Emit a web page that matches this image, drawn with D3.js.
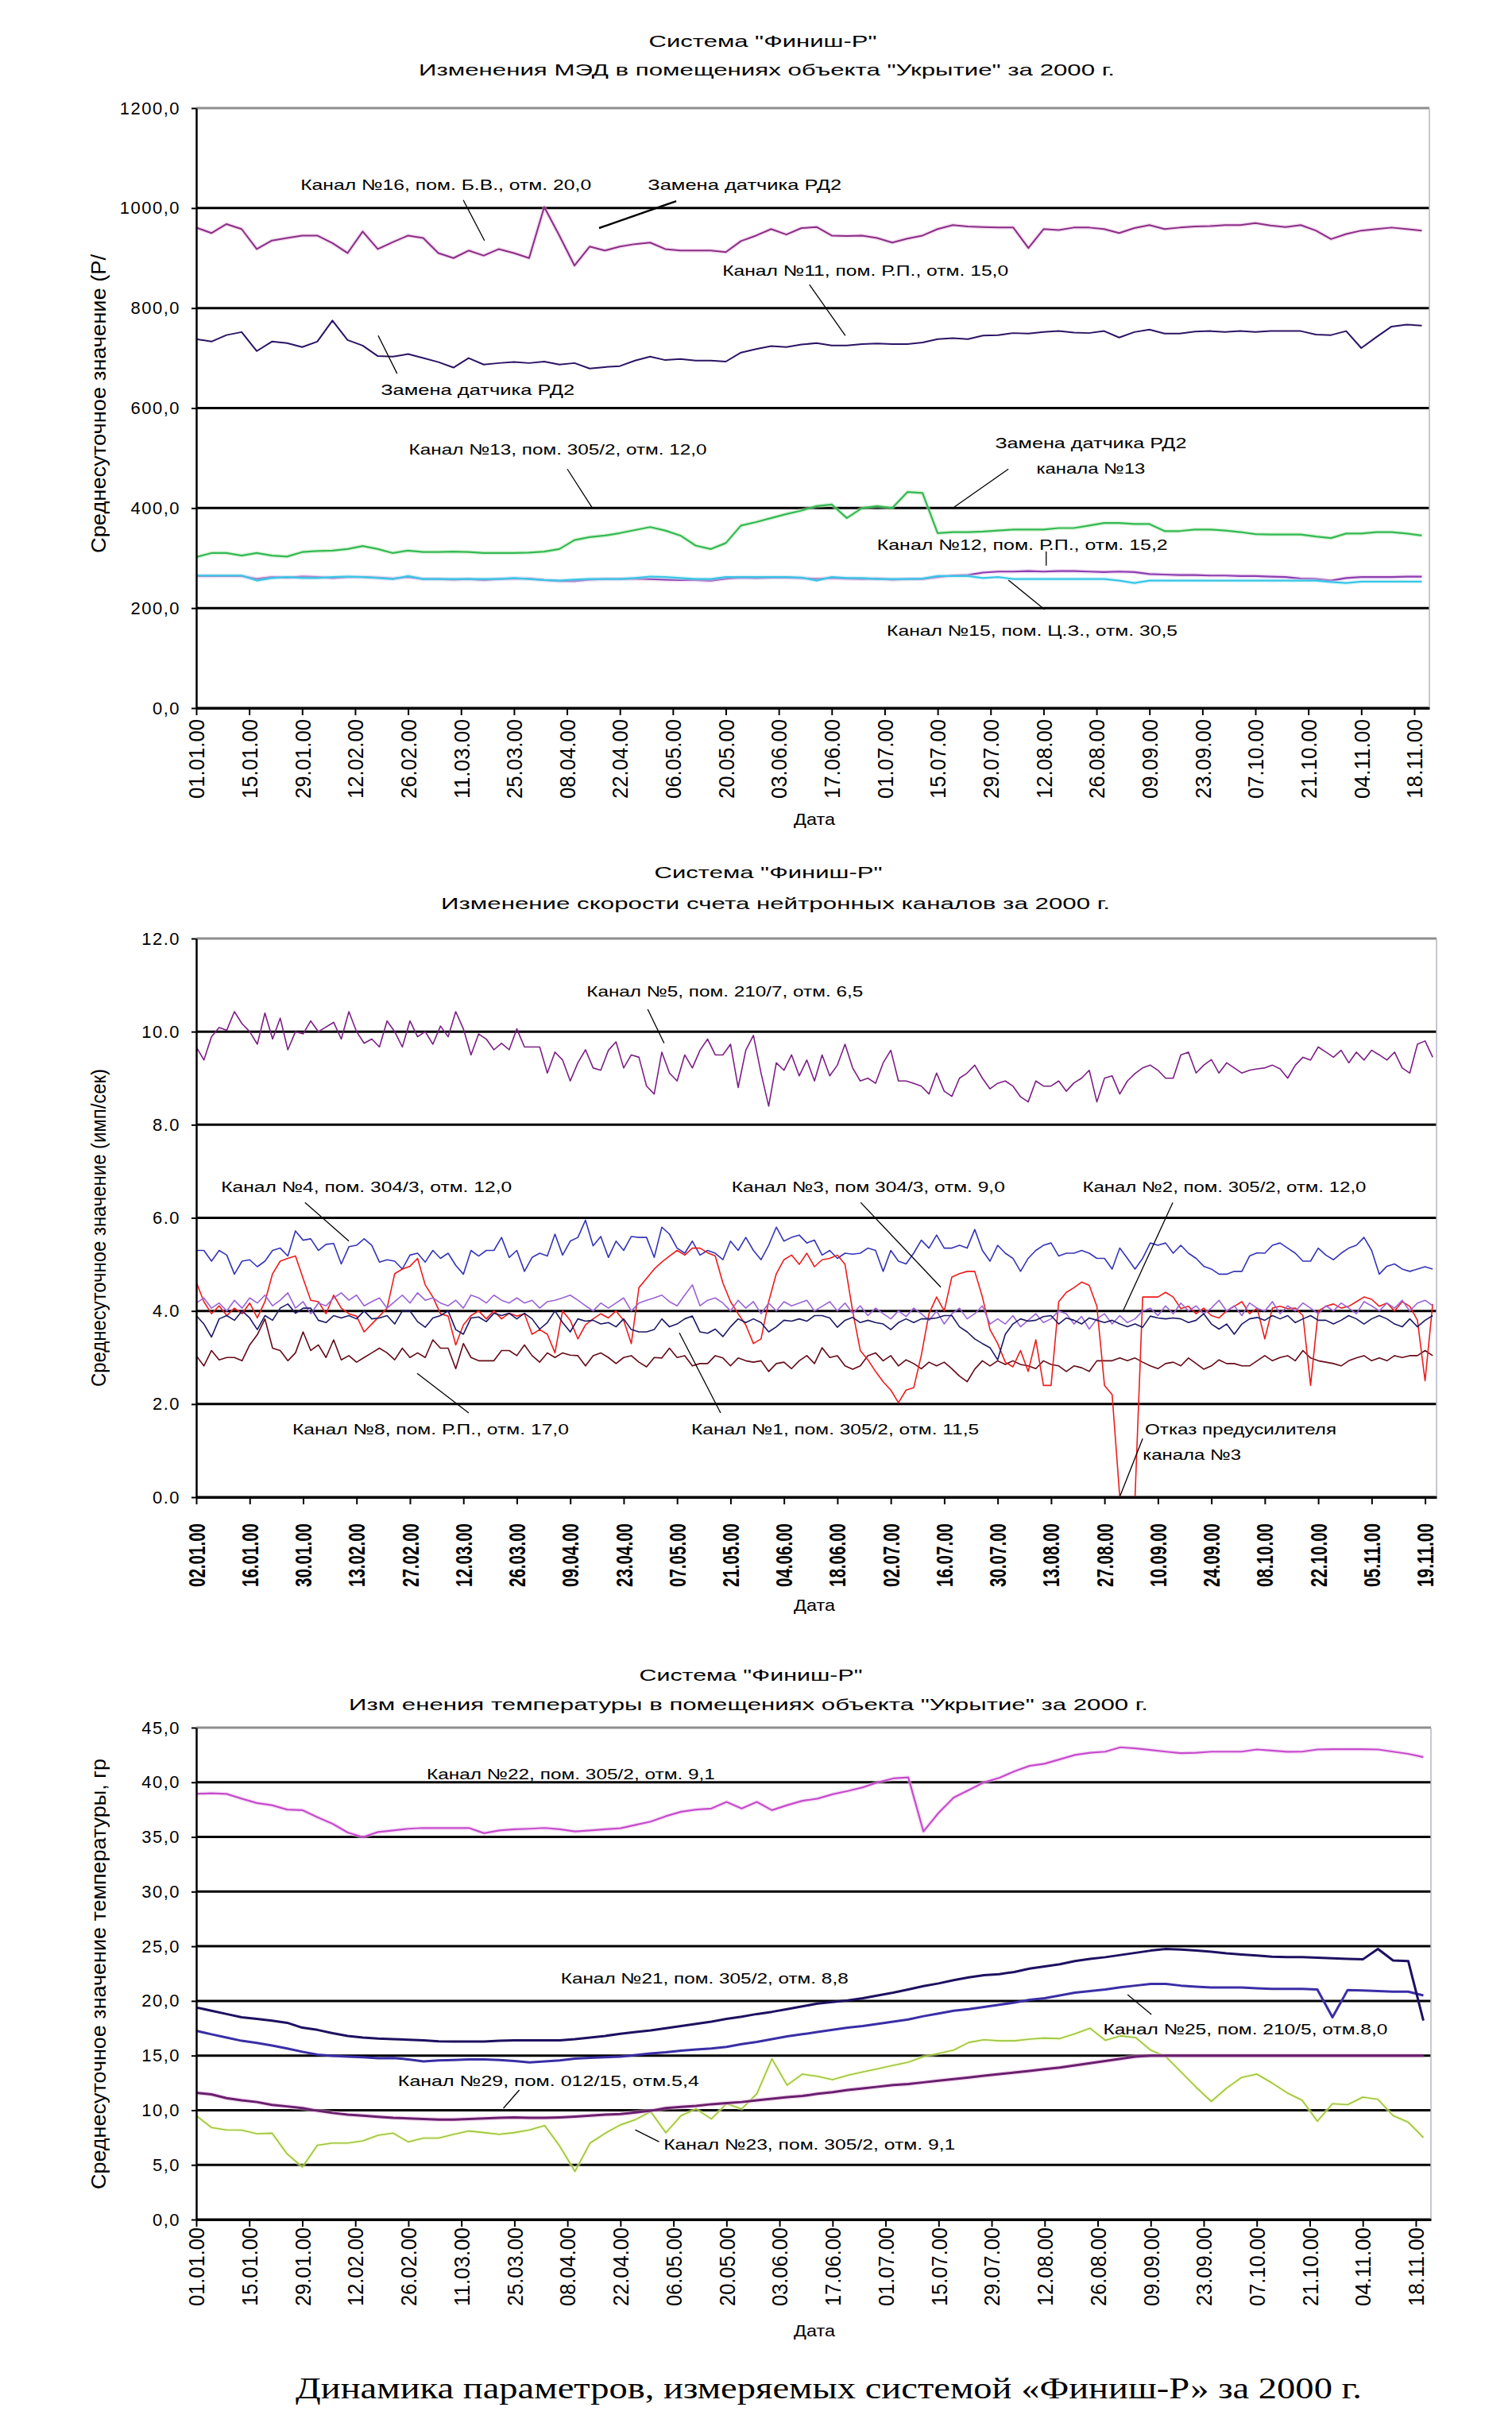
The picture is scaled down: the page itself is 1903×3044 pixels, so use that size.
<!DOCTYPE html>
<html><head><meta charset="utf-8">
<script src="https://cdn.jsdelivr.net/npm/d3@7/dist/d3.min.js"></script>
<style>html,body{margin:0;padding:0;background:#fff}svg{display:block}</style>
</head><body>
<svg id="chart" width="1903" height="3044" xmlns="http://www.w3.org/2000/svg"></svg>
<script>
// ================= DATA =================
// ---- Panel 1: МЭД ----
const p1Title = ['Система "Финиш-Р"', 'Изменения МЭД в помещениях объекта "Укрытие" за 2000 г.'];
const p1YTitle = "Среднесуточное значение (Р/";
const p1XTitle = "Дата";
const p1TickLabels = ["01.01.00","15.01.00","29.01.00","12.02.00","26.02.00","11.03.00","25.03.00","08.04.00","22.04.00","06.05.00","20.05.00","03.06.00","17.06.00","01.07.00","15.07.00","29.07.00","12.08.00","26.08.00","09.09.00","23.09.00","07.10.00","21.10.00","04.11.00","18.11.00"];
const p1YTicks = [0,200,400,600,800,1000,1200];
const p1YLabels = ["0,0","200,0","400,0","600,0","800,0","1000,0","1200,0"];
const p1Start = "01.01.00", p1End = "22.11.00", p1StepDays = 4;
const p1Ch16 = [961,950,968,958,918,935,940,945,945,930, 910,953,918,932,945,940,910,900,915,905, 918,910,900,1002,945,885,923,915,923,928, 931,918,915,915,915,912,934,945,958,947, 960,962,945,944,945,940,931,939,945,958, 966,963,962,961,961,920,958,956,961,961, 958,950,960,966,958,961,963,964,966,966, 970,965,962,966,955,938,948,955,958,961, 958,955];
const p1Ch11 = [738,733,746,752,714,733,730,722,733,775, 736,725,704,703,708,700,692,681,700,687, 690,692,690,693,687,690,679,682,684,695, 703,696,698,695,695,693,711,718,724,722, 727,730,725,725,728,729,728,728,731,738, 740,738,745,746,750,749,752,754,751,750, 754,741,752,757,749,749,753,754,752,754, 752,754,754,754,747,746,754,720,742,763, 767,765];
const p1Ch13 = [302,310,310,305,310,305,303,312,314,315, 318,324,318,310,315,312,312,313,312,310, 310,310,311,313,318,336,342,345,350,356, 362,355,345,325,318,330,365,372,380,388, 395,404,407,380,400,404,400,432,430,350, 352,352,353,355,357,357,357,360,360,365, 370,370,368,368,354,354,357,357,355,352, 348,347,347,347,343,340,349,349,352,352, 349,345];
const p1Ch12 = [264,264,264,264,258,262,261,263,262,260, 262,262,261,259,262,258,258,257,258,256, 258,259,259,256,254,254,257,258,258,259, 258,257,256,256,255,259,261,260,261,261, 260,258,260,259,258,259,257,258,258,262, 265,266,271,273,273,274,273,274,274,273, 272,273,272,268,267,266,266,265,265,264, 264,263,262,259,258,255,260,262,262,262, 263,263];
const p1Ch15 = [265,265,265,265,255,260,262,260,260,262, 263,262,260,258,264,258,258,258,258,258, 258,260,258,256,255,257,258,258,258,260, 263,262,260,258,258,262,262,262,262,262, 261,255,262,260,260,258,258,258,259,264, 264,264,260,262,258,258,258,258,258,258, 258,255,250,255,255,255,255,255,255,255, 255,255,255,255,255,252,250,253,253,253, 253,253];
const p1NoteTexts = ["Канал №16, пом. Б.В., отм. 20,0","Замена датчика РД2","Канал №11, пом. Р.П., отм. 15,0","Замена датчика РД2","Канал №13, пом. 305/2, отм. 12,0","Замена датчика РД2","канала №13","Канал №12, пом. Р.П., отм. 15,2","Канал №15, пом. Ц.З., отм. 30,5"];

// ---- Panel 2: нейтронные каналы ----
const p2Title = ['Система "Финиш-Р"', 'Изменение скорости счета нейтронных каналов за 2000 г.'];
const p2YTitle = "Среднесуточное значение (имп/сек)";
const p2XTitle = "Дата";
const p2TickLabels = ["02.01.00","16.01.00","30.01.00","13.02.00","27.02.00","12.03.00","26.03.00","09.04.00","23.04.00","07.05.00","21.05.00","04.06.00","18.06.00","02.07.00","16.07.00","30.07.00","13.08.00","27.08.00","10.09.00","24.09.00","08.10.00","22.10.00","05.11.00","19.11.00"];
const p2YTicks = [0,2,4,6,8,10,12];
const p2YLabels = ["0.0","2.0","4.0","6.0","8.0","10.0","12.0"];
const p2Start = "02.01.00", p2End = "22.11.00", p2StepDays = 2;
const p2Ch5 = [9.67,9.39,9.89,10.09,10.03,10.43,10.17,10.0,9.73,10.40, 9.84,10.29,9.61,10.0,9.95,10.23,10.0,10.1,10.2,9.84, 10.43,10.0,9.75,9.84,9.67,10.23,10.0,9.67,10.23,9.89, 10.0,9.73,10.12,9.89,10.43,10.06,9.5,9.95,9.84,9.61, 9.75,9.61,10.06,9.67,9.67,9.67,9.11,9.56,9.39,8.94, 9.33,9.61,9.22,9.17,9.6,9.78,9.22,9.5,9.45,8.83, 8.66,9.56,9.11,8.94,9.5,9.22,9.6,9.84,9.5,9.5, 9.73,8.8,9.6,9.92,9.11,8.4,9.33,9.17,9.5,9.05, 9.39,8.94,9.5,9.05,9.28,9.73,9.22,8.94,9.0,8.89, 9.33,9.6,8.94,8.94,8.89,8.83,8.66,9.11,8.72,8.61, 9.0,9.11,9.28,9.0,8.77,8.89,8.94,8.83,8.6,8.49, 8.94,8.83,8.83,8.94,8.72,8.9,9.0,9.17,8.49,9.0, 9.05,8.66,8.94,9.1,9.22,9.28,9.17,9.0,9.0,9.5, 9.56,9.11,9.28,9.4,9.11,9.33,9.22,9.11,9.17,9.2, 9.22,9.28,9.2,9.0,9.28,9.45,9.39,9.67,9.56,9.45, 9.6,9.33,9.56,9.39,9.6,9.5,9.39,9.56,9.22,9.11, 9.73,9.8,9.45];
const p2Ch4 = [5.3,5.3,5.07,5.3,5.2,4.79,5.07,5.1,4.95,5.07, 5.3,5.35,5.18,5.72,5.52,5.55,5.3,5.43,5.45,5.01, 5.38,5.41,5.55,5.41,5.05,5.1,5.07,4.9,5.2,5.24, 5.05,5.3,5.13,5.24,4.98,4.79,5.3,5.18,5.3,5.3, 5.58,5.15,5.3,4.85,5.15,5.24,5.18,5.65,5.2,5.5, 5.58,5.95,5.4,5.6,5.15,5.5,5.3,5.6,5.58,5.58, 5.15,5.8,5.65,5.35,5.24,5.5,5.2,5.3,5.24,5.1, 5.5,5.3,5.58,5.3,5.1,5.41,5.8,5.5,5.58,5.63, 5.46,5.52,5.2,5.3,5.13,5.24,5.22,5.24,5.35,5.3, 4.85,5.3,5.07,5.01,5.24,5.52,5.35,5.63,5.35,5.35, 5.41,5.35,5.75,5.3,5.07,5.41,5.24,5.13,4.85,5.13, 5.3,5.41,5.46,5.18,5.24,5.24,5.3,5.24,5.13,5.13, 4.9,5.35,5.13,4.9,5.13,5.46,5.41,5.46,5.24,5.41, 5.24,5.13,4.96,4.9,4.79,4.79,4.85,4.85,5.18,5.25, 5.24,5.41,5.46,5.35,5.24,5.07,5.07,5.35,5.2,5.1, 5.24,5.35,5.41,5.58,5.3,4.79,4.96,5.01,4.9,4.85, 4.9,4.95,4.9];
const p2Ch3 = [4.62,4.2,3.94,4.11,3.9,4.06,3.94,4.17,3.85,4.2, 4.8,5.07,5.13,5.18,4.7,4.23,4.2,3.94,4.34,4.06, 3.94,3.89,3.55,3.72,3.89,4.06,4.8,4.9,4.96,5.13, 4.56,4.3,3.94,3.89,3.27,3.7,3.9,4.0,3.83,4.0, 3.83,3.95,3.89,3.94,3.5,3.6,3.5,3.1,4.0,3.8, 3.4,3.7,3.83,3.94,3.85,4.0,3.8,3.3,4.5,4.7, 4.9,5.05,5.18,5.3,5.2,5.35,5.35,5.25,5.18,4.6, 4.2,3.94,3.7,3.3,3.4,4.2,4.8,5.1,5.2,5.0, 5.24,4.95,5.1,5.13,5.2,5.0,4.0,3.15,2.95,2.7, 2.48,2.3,2.03,2.3,2.35,3.05,3.94,4.3,4.0,4.73, 4.8,4.85,4.85,4.3,3.6,3.3,2.9,2.8,3.15,2.7, 3.38,2.4,2.4,4.2,4.4,4.5,4.62,4.55,4.1,2.4, 2.2,0.0,0.0,0.0,4.3,4.3,4.3,4.4,4.3,4.05, 4.1,3.94,4.06,3.9,3.85,4.0,4.1,4.2,3.94,4.06, 3.4,4.06,4.1,4.05,4.06,3.9,2.4,4.0,4.1,4.15, 4.06,4.1,4.2,4.3,4.25,4.1,4.17,4.0,4.2,4.1, 3.8,2.5,4.15];
const p2Ch2 = [4.17,4.28,4.06,4.17,4.0,4.23,4.06,4.28,4.17,4.34, 4.11,4.23,4.39,4.06,4.2,3.94,4.17,4.11,4.28,4.39, 4.23,4.34,4.11,4.2,4.28,4.06,4.2,4.34,4.17,4.39, 4.23,4.28,4.17,4.11,4.23,4.06,4.34,4.28,4.17,4.34, 4.23,4.17,4.28,4.17,4.23,4.06,4.2,4.23,4.28,4.34, 4.23,4.11,4.0,4.17,4.06,4.17,4.28,4.0,4.17,4.23, 4.28,4.34,4.2,4.11,4.34,4.56,4.11,4.23,4.28,4.17, 4.0,4.23,4.06,4.2,3.94,4.17,4.0,4.2,4.11,4.17, 4.23,4.0,4.1,4.2,4.0,4.17,3.95,4.11,3.9,4.06, 3.94,3.83,4.0,3.88,4.06,3.94,3.8,4.0,3.72,3.94, 4.06,3.83,3.94,4.11,3.72,3.83,3.72,3.9,3.66,3.8, 3.94,3.75,3.83,4.0,3.94,3.72,3.88,3.61,3.83,3.94, 3.72,3.9,3.75,3.83,4.0,4.06,3.9,4.11,3.94,4.17, 4.0,4.11,3.94,4.06,4.23,4.0,4.11,3.9,4.17,4.06, 4.0,4.2,3.94,4.11,4.0,4.17,4.06,3.94,4.11,4.0, 4.17,4.06,3.94,4.2,4.11,4.0,4.17,4.06,4.23,4.0, 4.17,4.23,4.11];
const p2Ch1 = [3.9,3.72,3.44,3.83,3.9,3.8,4.0,3.85,3.6,3.9, 3.8,4.06,4.15,3.95,4.06,4.06,3.8,3.75,3.9,3.85, 3.9,3.83,4.0,3.83,3.85,3.9,3.72,4.0,4.0,3.77, 3.65,3.85,3.9,4.0,3.6,3.5,3.85,3.87,3.77,3.95, 3.9,3.95,3.83,3.95,3.83,3.61,3.75,4.0,3.75,3.55, 3.83,3.78,3.8,3.72,3.75,3.66,3.83,3.6,3.55,3.55, 3.6,3.83,3.66,3.72,3.83,3.89,3.55,3.52,3.61,3.45, 3.66,3.83,3.75,3.83,3.75,3.55,3.66,3.8,3.78,3.83, 3.78,3.9,3.9,3.85,3.65,3.8,3.86,3.75,3.8,3.75, 3.72,3.6,3.75,3.83,3.75,3.83,3.83,3.85,3.9,3.9, 3.66,3.55,3.4,3.3,3.21,2.95,3.5,3.72,3.83,3.78, 3.8,3.88,3.9,3.72,3.85,3.8,3.72,3.85,3.8,3.75, 3.8,3.72,3.66,3.72,3.65,3.89,3.85,3.83,3.85,3.83, 3.75,3.8,3.94,3.72,3.61,3.72,3.5,3.72,3.83,3.86, 3.8,3.9,3.83,3.9,3.75,3.83,3.9,3.8,3.8,3.72, 3.8,3.9,3.83,3.72,3.83,3.9,3.83,3.72,3.66,3.83, 3.66,3.8,3.9];
const p2Ch8 = [3.04,2.82,3.15,2.95,3.0,3.0,2.93,3.27,3.49,3.83, 3.2,3.15,2.93,3.1,3.55,3.15,3.27,3.0,3.38,2.95, 3.04,2.9,3.0,3.1,3.2,3.1,2.95,3.2,3.0,3.1, 3.0,3.38,3.2,3.2,2.76,3.3,3.0,2.93,2.93,2.93, 3.15,3.15,3.04,3.27,3.04,2.9,3.1,3.0,3.1,3.05, 3.04,2.82,3.04,3.1,3.0,2.87,3.0,3.04,2.9,2.8, 3.0,2.99,3.2,3.0,3.04,2.82,2.87,2.87,3.04,2.99, 2.82,2.99,2.93,2.9,2.93,2.7,2.87,2.9,2.76,2.93, 3.04,2.87,3.21,3.0,3.04,2.82,2.75,2.82,3.04,3.1, 2.93,3.04,2.82,2.95,2.87,2.76,2.9,2.82,2.9,2.76, 2.6,2.48,2.75,2.93,2.82,2.93,2.85,2.93,2.85,2.82, 2.76,2.93,2.85,2.82,2.7,2.82,2.78,2.7,2.93,2.93, 2.93,2.99,2.93,2.99,2.9,2.82,2.76,2.87,2.9,2.82, 2.99,2.87,2.75,2.82,2.95,2.87,2.87,2.82,2.82,2.93, 3.04,2.93,3.0,3.04,2.93,3.15,2.99,2.93,2.9,2.87, 2.82,2.93,2.99,3.04,2.93,2.99,2.93,3.04,3.0,3.04, 3.04,3.15,3.04];
const p2NoteTexts = ["Канал №5, пом. 210/7, отм. 6,5","Канал №4,  пом. 304/3, отм. 12,0","Канал №3, пом 304/3, отм. 9,0","Канал №2, пом. 305/2, отм. 12,0","Канал №8, пом. Р.П., отм. 17,0","Канал №1, пом. 305/2, отм. 11,5","Отказ предусилителя","канала №3"];

// ---- Panel 3: температура ----
const p3Title = ['Система "Финиш-Р"', 'Изм енения температуры в помещениях объекта "Укрытие" за 2000 г.'];
const p3YTitle = "Среднесуточное значение температуры, гр";
const p3XTitle = "Дата";
const p3TickLabels = p1TickLabels.slice();
const p3YTicks = [0,5,10,15,20,25,30,35,40,45];
const p3YLabels = ["0,0","5,0","10,0","15,0","20,0","25,0","30,0","35,0","40,0","45,0"];
const p3Start = "01.01.00", p3End = "22.11.00", p3StepDays = 4;
const p3Ch22 = [38.94,39.0,38.94,38.5,38.1,37.9,37.5,37.45,36.8,36.2, 35.4,34.98,35.45,35.6,35.75,35.82,35.82,35.82,35.82,35.34, 35.6,35.7,35.75,35.82,35.7,35.5,35.6,35.7,35.8,36.1, 36.4,36.9,37.3,37.5,37.6,38.2,37.6,38.2,37.45,37.9, 38.3,38.5,38.9,39.2,39.54,40.0,40.35,40.45,35.5,37.2, 38.6,39.3,40.0,40.4,41.0,41.5,41.7,42.1,42.5,42.7, 42.8,43.2,43.1,42.95,42.8,42.67,42.7,42.8,42.8,42.8, 43.0,42.9,42.79,42.8,43.0,43.03,43.03,43.03,43.0,42.8, 42.6,42.3];
const p3Ch21 = [19.4,19.1,18.8,18.5,18.35,18.2,18.0,17.55,17.35,17.05, 16.8,16.65,16.55,16.5,16.45,16.4,16.3,16.28,16.28,16.28, 16.35,16.4,16.4,16.4,16.4,16.5,16.65,16.8,17.0,17.15, 17.3,17.5,17.7,17.9,18.1,18.35,18.55,18.8,19.0,19.25, 19.5,19.75,19.9,20.05,20.25,20.5,20.75,21.05,21.35,21.6, 21.9,22.15,22.35,22.45,22.65,22.95,23.15,23.35,23.65,23.85, 24.0,24.2,24.4,24.6,24.75,24.7,24.6,24.5,24.35,24.25, 24.15,24.05,24.0,24.0,23.95,23.9,23.85,23.8,24.75,23.7, 23.65,18.2];
const p3Ch25 = [17.26,16.95,16.65,16.35,16.15,15.92,15.65,15.35,15.08,14.98, 14.9,14.84,14.75,14.78,14.65,14.47,14.55,14.6,14.65,14.65, 14.6,14.5,14.38,14.47,14.55,14.72,14.8,14.84,14.9,15.05, 15.2,15.3,15.45,15.55,15.65,15.8,16.05,16.25,16.5,16.75, 16.95,17.15,17.35,17.55,17.7,17.9,18.1,18.3,18.6,18.85, 19.1,19.25,19.45,19.65,19.85,20.1,20.25,20.5,20.75,20.9, 21.05,21.25,21.4,21.55,21.55,21.4,21.3,21.22,21.22,21.22, 21.15,21.1,21.1,21.1,21.05,18.5,21.0,20.95,20.9,20.85, 20.85,20.5];
const p3Ch29 = [11.6,11.45,11.1,10.9,10.75,10.48,10.35,10.2,9.95,9.75, 9.6,9.5,9.4,9.3,9.25,9.2,9.15,9.15,9.2,9.25, 9.3,9.35,9.3,9.3,9.35,9.42,9.5,9.6,9.65,9.8, 9.95,10.2,10.3,10.4,10.55,10.65,10.75,10.9,11.05,11.2, 11.3,11.5,11.65,11.85,12.0,12.15,12.3,12.4,12.55,12.7, 12.85,13.0,13.15,13.3,13.45,13.6,13.75,13.9,14.1,14.3, 14.5,14.7,14.9,15.0,15.0,15.0,15.0,15.0,15.0,15.0, 15.0,15.0,15.0,15.0,15.0,15.0,15.0,15.0,15.0,15.0, 15.0,15.0];
const p3Ch23 = [9.51,8.42,8.2,8.18,7.85,7.9,6.0,4.8,6.8,7.0, 7.0,7.2,7.7,7.9,7.1,7.45,7.45,7.8,8.1,7.95, 7.8,7.95,8.2,8.6,6.7,4.4,7.0,7.9,8.66,9.15, 9.87,7.94,9.5,10.12,9.2,10.6,10.12,11.5,14.7,12.3, 13.3,13.1,12.8,13.2,13.5,13.8,14.1,14.4,14.9,15.2, 15.5,16.2,16.45,16.35,16.35,16.5,16.6,16.55,17.0,17.5, 16.4,16.8,16.65,15.5,14.9,13.5,12.1,10.8,12.0,13.0, 13.3,12.5,11.6,10.9,9.0,10.6,10.5,11.2,11.0,9.5, 8.9,7.5];
const p3NoteTexts = ["Канал №22, пом. 305/2, отм. 9,1","Канал №21, пом. 305/2, отм. 8,8","Канал №25, пом. 210/5, отм.8,0","Канал №29, пом. 012/15, отм.5,4","Канал №23, пом. 305/2, отм. 9,1"];

const captionText = "Динамика параметров, измеряемых системой «Финиш-Р» за 2000 г.";

// ================= LAYOUT / STYLE =================
const SANS = '"Liberation Sans", Arial, Helvetica, sans-serif';
const SERIF = '"Liberation Serif", "Times New Roman", serif';
const parse = d3.utcParse("%d.%m.%y");
const jan1 = parse("01.01.00");
const dayDate = d => new Date(jan1.getTime() + d * 864e5);

const svg = d3.select("#chart");
svg.append("rect").attr("width", 1903).attr("height", 3044).attr("fill", "#fff");

function hText(x, y, str, o) {
  const t = svg.append("text").attr("x", x).attr("y", y).attr("dy", "0.35em")
    .attr("font-family", o.family || SANS).attr("font-size", o.size)
    .attr("text-anchor", o.anchor || "middle").attr("fill", "#000").text(str);
  if (o.len) t.attr("textLength", o.len).attr("lengthAdjust", "spacingAndGlyphs");
  return t;
}
function vText(x, y, str, o) {
  const g = svg.append("g").attr("transform", `translate(${x},${y}) scale(${o.sx || 1},1) rotate(-90)`);
  const t = g.append("text").attr("x", 0).attr("y", 0).attr("dy", "0.35em")
    .attr("font-family", SANS).attr("font-size", o.size).attr("text-anchor", "middle")
    .attr("fill", "#000").text(str);
  if (o.len) t.attr("textLength", o.len).attr("lengthAdjust", "spacingAndGlyphs");
}

function drawPanel(P) {
  const x = d3.scaleUtc().domain([parse(P.start), parse(P.end)]).range([P.left, P.right]);
  const y = d3.scaleLinear().domain([0, d3.max(P.yTicks)]).range([P.bottom, P.top]);
  const g = svg.append("g");
  const clipId = "clip" + P.id;
  svg.append("clipPath").attr("id", clipId).append("rect")
    .attr("x", P.left).attr("y", P.top - 2).attr("width", P.right - P.left).attr("height", P.bottom - P.top + 4);

  // horizontal grid
  const ymax = d3.max(P.yTicks);
  g.selectAll("line.grid").data(P.yTicks).join("line").attr("class", "grid")
    .attr("x1", P.left).attr("x2", P.right).attr("y1", d => y(d)).attr("y2", d => y(d))
    .attr("stroke", d => d === ymax ? "#8e8e8e" : "#000").attr("stroke-width", 3);
  g.append("line").attr("x1", P.right).attr("x2", P.right).attr("y1", P.top).attr("y2", P.bottom)
    .attr("stroke", "#b4b4c4").attr("stroke-width", 1.5);

  // series
  const start = parse(P.start);
  const line = d3.line().x(d => x(d.date)).y(d => y(d.v)).curve(d3.curveLinear);
  const sg = g.append("g").attr("clip-path", `url(#${clipId})`);
  P.series.forEach(s => {
    const pts = s.values.map((v, i) => ({ date: new Date(start.getTime() + i * P.step * 864e5), v }));
    if (s.halo) sg.append("path").datum(pts).attr("d", line).attr("fill", "none")
      .attr("stroke", s.halo).attr("stroke-width", s.w + 3).attr("stroke-opacity", 0.45).attr("stroke-linejoin", "round");
    sg.append("path").datum(pts).attr("d", line).attr("fill", "none")
      .attr("stroke", s.color).attr("stroke-width", s.w).attr("stroke-linejoin", "round");
  });

  // y axis
  const ya = g.append("g").attr("transform", `translate(${P.left},0)`)
    .call(d3.axisLeft(y).tickValues(P.yTicks).tickFormat((d, i) => P.yLabels[i]).tickSize(6).tickSizeOuter(0).tickPadding(14));
  ya.select(".domain").attr("stroke", "#000").attr("stroke-width", 2.5);
  ya.selectAll(".tick line").attr("stroke", "#000").attr("stroke-width", 2);
  ya.selectAll(".tick text").attr("font-family", SANS).attr("font-size", 22).attr("letter-spacing", 1.5).attr("fill", "#000");

  // x axis
  const ticks = P.tickLabels.map(parse);
  const xa = g.append("g").attr("transform", `translate(0,${P.bottom})`)
    .call(d3.axisBottom(x).tickValues(ticks).tickFormat((d, i) => P.tickLabels[i]).tickSize(9).tickSizeOuter(0));
  xa.select(".domain").attr("stroke", "#000").attr("stroke-width", 3);
  xa.selectAll(".tick line").attr("stroke", "#000").attr("stroke-width", 2);
  xa.selectAll(".tick text")
    .attr("transform", `translate(0,${P.labPad}) scale(${P.labSx},1) rotate(-90)`)
    .attr("x", 0).attr("y", 0).attr("dy", "0.35em").attr("text-anchor", "end")
    .attr("font-family", SANS).attr("font-size", P.labSize).attr("font-weight", P.labWeight)
    .attr("textLength", P.labLen).attr("lengthAdjust", "spacingAndGlyphs").attr("fill", "#000");

  // titles
  hText(P.titleX[0], P.titleY[0], P.title[0], { size: 21, len: P.titleLen[0] });
  hText(P.titleX[1], P.titleY[1], P.title[1], { size: 21, len: P.titleLen[1] });
  vText(P.yTitlePos[0], P.yTitlePos[1], P.yTitle, { size: 17, sx: 1.5, len: P.yTitleLen });
  hText(1025, P.xTitleY, P.xTitle, { size: 21, len: 52 });

  // annotations (positions in data units: days since 01.01.00, value)
  P.notes.forEach((n, i) => {
    hText(x(dayDate(n.d)), y(n.v), P.noteTexts[i], { size: 19, len: n.len, anchor: n.anchor || "middle" });
  });
  P.leaders.forEach(l => {
    g.append("line").attr("x1", x(dayDate(l[0]))).attr("y1", y(l[1])).attr("x2", x(dayDate(l[2]))).attr("y2", y(l[3]))
      .attr("stroke", "#000").attr("stroke-width", l[4] || 1.3);
  });
}

drawPanel({
  id: 1, top: 136, bottom: 891, left: 247, right: 1799, start: p1Start, end: p1End, step: p1StepDays,
  yTicks: p1YTicks, yLabels: p1YLabels, tickLabels: p1TickLabels,
  labPad: 14, labLen: 100, labSize: 18, labSx: 1.55, labWeight: "normal",
  title: p1Title, titleX: [960, 965], titleY: [52, 88], titleLen: [287, 876],
  yTitle: p1YTitle, yTitlePos: [124, 508], yTitleLen: 376, xTitle: p1XTitle, xTitleY: 1031,
  series: [
    { values: p1Ch16, color: "#8b2e86", w: 2, halo: "#e7b5e0" },
    { values: p1Ch11, color: "#2b1464", w: 2 },
    { values: p1Ch13, color: "#33b955", w: 2.2, halo: "#b9e8b0" },
    { values: p1Ch12, color: "#8c3fb0", w: 2.2, halo: "#e6b8e8" },
    { values: p1Ch15, color: "#38c6e6", w: 2.2, halo: "#bfeaf6" }
  ],
  noteTexts: p1NoteTexts,
  notes: [
    { d: 66, v: 1047, len: 366 }, { d: 145, v: 1047, len: 244 }, { d: 176.9, v: 876, len: 360 },
    { d: 74.4, v: 637, len: 244 }, { d: 95.6, v: 517, len: 375 }, { d: 236.5, v: 531, len: 241 },
    { d: 236.5, v: 480, len: 137 }, { d: 218.4, v: 327, len: 366 }, { d: 221, v: 156, len: 366 }
  ],
  leaders: [[70.6, 1016, 76.2, 935], [126.9, 1014, 106.5, 960, 2.4], [162.1, 847, 171.6, 745], [48.1, 745, 53.1, 669],
            [98.1, 478, 104.8, 399], [214.7, 478, 200.4, 402], [224.7, 313, 224.7, 285], [214.7, 256, 224.3, 197]],
  xTitle: p1XTitle
});

drawPanel({
  id: 2, top: 1181, bottom: 1884, left: 247, right: 1808, start: p2Start, end: p2End, step: p2StepDays,
  yTicks: p2YTicks, yLabels: p2YLabels, tickLabels: p2TickLabels,
  labPad: 33, labLen: 80, labSize: 16, labSx: 1.8, labWeight: "bold",
  title: p2Title, titleX: [967, 976], titleY: [1098, 1137], titleLen: [287, 842],
  yTitle: p2YTitle, yTitlePos: [124, 1545], yTitleLen: 400, xTitle: p2XTitle, xTitleY: 2020,
  series: [
    { values: p2Ch5, color: "#7d1f86", w: 1.6 },
    { values: p2Ch4, color: "#3535b8", w: 1.6 },
    { values: p2Ch8, color: "#650a18", w: 1.6 },
    { values: p2Ch3, color: "#ee1c1c", w: 1.6 },
    { values: p2Ch2, color: "#9b63d6", w: 1.6 },
    { values: p2Ch1, color: "#1c1a66", w: 1.6 }
  ],
  noteTexts: p2NoteTexts,
  notes: [
    { d: 139.5, v: 10.87, len: 348 }, { d: 45.6, v: 6.67, len: 366 }, { d: 177.1, v: 6.67, len: 344 },
    { d: 270.4, v: 6.67, len: 357 }, { d: 62.4, v: 1.47, len: 348 }, { d: 168.4, v: 1.47, len: 362 },
    { d: 249.6, v: 1.47, len: 241, anchor: "start" }, { d: 249, v: 0.92, len: 124, anchor: "start" }
  ],
  leaders: [[119.3, 10.48, 123.6, 9.75], [29.5, 6.33, 41, 5.5], [175.1, 6.33, 196.1, 4.51], [256.9, 6.33, 243.8, 3.99],
            [58.9, 2.66, 72.4, 1.81], [127.6, 3.53, 138.4, 1.81], [243.1, 0.03, 249, 1.26]]
});

drawPanel({
  id: 3, top: 2174, bottom: 2793, left: 247, right: 1801, start: p3Start, end: p3End, step: p3StepDays,
  yTicks: p3YTicks, yLabels: p3YLabels, tickLabels: p3TickLabels,
  labPad: 10, labLen: 99, labSize: 18, labSx: 1.55, labWeight: "normal",
  title: p3Title, titleX: [945, 942], titleY: [2108, 2145], titleLen: [281, 1006],
  yTitle: p3YTitle, yTitlePos: [124, 2484], yTitleLen: 542, xTitle: p3XTitle, xTitleY: 2933,
  series: [
    { values: p3Ch22, color: "#c64ccc", w: 2.2, halo: "#f0c4ef" },
    { values: p3Ch23, color: "#98c43a", w: 1.6, halo: "#eef3a8" },
    { values: p3Ch29, color: "#6a1f6e", w: 3, halo: "#f1bfe6" },
    { values: p3Ch25, color: "#3a2ea6", w: 3 },
    { values: p3Ch21, color: "#1e1060", w: 3 }
  ],
  noteTexts: p3NoteTexts,
  notes: [
    { d: 98.9, v: 40.78, len: 363 }, { d: 134.2, v: 22.1, len: 362 }, { d: 277, v: 17.45, len: 358 },
    { d: 93, v: 12.72, len: 379 }, { d: 161.9, v: 6.91, len: 367 }
  ],
  leaders: [[245.9, 20.57, 252.2, 18.76], [85.3, 11.85, 81.1, 10.18], [115.9, 8.21, 122.2, 7.12]]
});

hText(1043, 3005, captionText, { size: 38, len: 1342, family: SERIF });
</script>
</body></html>
